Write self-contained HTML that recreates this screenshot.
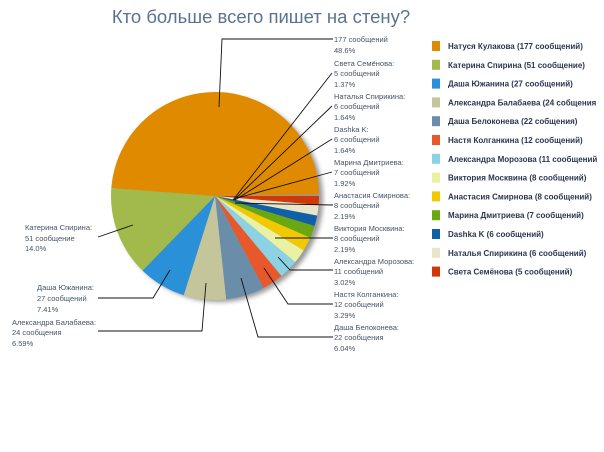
<!DOCTYPE html>
<html><head><meta charset="utf-8"><style>
body{margin:0;width:604px;height:452px;background:#fff;overflow:hidden}
svg{display:block}
text{font-family:"Liberation Sans","DejaVu Sans",sans-serif}
.l{font-size:7.5px;fill:#44556a}
.g{font-size:8px;font-weight:bold;fill:#2a3550}
</style></head><body>
<svg id="s" width="604" height="452" viewBox="0 0 604 452">
<defs><filter id="sh" x="-20%" y="-20%" width="140%" height="140%"><feGaussianBlur stdDeviation="2.5"/></filter></defs>
<text x="261" y="23" text-anchor="middle" font-size="18.5" fill="#5b7391">Кто больше всего пишет на стену?</text>
<ellipse cx="219" cy="199" rx="104" ry="103" fill="#555" opacity="0.6" filter="url(#sh)"/>
<g id="pie"></g>
<g stroke="#111" stroke-width="0.9" fill="none">
<polyline points="219,107 222,39 333,39"/>
<polyline points="233,200 332,73"/>
<polyline points="234,200 332,106"/>
<polyline points="235,200 332,139"/>
<polyline points="237,198 332,172"/>
<polyline points="235,203 333,205"/>
<polyline points="275,238 333,238"/>
<polyline points="278,257 290,270 333,270"/>
<polyline points="264,268 288,304 333,304"/>
<polyline points="241,278 258,337 333,337"/>
<polyline points="206,283 202,331 98,331"/>
<polyline points="170,270 153,298 98,298"/>
<polyline points="133,225 98,237"/>
</g>
<g class="l">
<text x="334" y="42">177 сообщений</text><text x="334" y="53">48.6%</text>
<text x="334" y="66">Света Семёнова:</text><text x="334" y="76">5 сообщений</text><text x="334" y="87">1.37%</text>
<text x="334" y="99">Наталья Спирикина:</text><text x="334" y="109">6 сообщений</text><text x="334" y="120">1.64%</text>
<text x="334" y="132">Dashka K:</text><text x="334" y="142">6 сообщений</text><text x="334" y="153">1.64%</text>
<text x="334" y="165">Марина Дмитриева:</text><text x="334" y="175">7 сообщений</text><text x="334" y="186">1.92%</text>
<text x="334" y="198">Анастасия Смирнова:</text><text x="334" y="208">8 сообщений</text><text x="334" y="219">2.19%</text>
<text x="334" y="231">Виктория Москвина:</text><text x="334" y="241">8 сообщений</text><text x="334" y="252">2.19%</text>
<text x="334" y="264">Александра Морозова:</text><text x="334" y="274">11 сообщений</text><text x="334" y="285">3.02%</text>
<text x="334" y="297">Настя Колганкина:</text><text x="334" y="307">12 сообщений</text><text x="334" y="318">3.29%</text>
<text x="334" y="330">Даша Белоконева:</text><text x="334" y="340">22 сообщения</text><text x="334" y="351">6.04%</text>
<text x="25" y="230">Катерина Спирина:</text><text x="25" y="241">51 сообщение</text><text x="25" y="251">14.0%</text>
<text x="37" y="290">Даша Южанина:</text><text x="37" y="301">27 сообщений</text><text x="37" y="312">7.41%</text>
<text x="12" y="325">Александра Балабаева:</text><text x="12" y="335">24 сообщения</text><text x="12" y="346">6.59%</text>
</g>
<g id="leg"></g>
</svg>
<script>
var d=[[177,"#e08a00","Натуся Кулакова (177 сообщений)"],[51,"#a2b94c","Катерина Спирина (51 сообщение)"],[27,"#2a90d8","Даша Южанина (27 сообщений)"],[24,"#c5c59c","Александра Балабаева (24 собщения"],[22,"#6a8ea9","Даша Белоконева (22 собщения)"],[12,"#e8582a","Настя Колганкина (12 сообщений)"],[11,"#8cd2e2","Александра Морозова (11 сообщений"],[8,"#e9f2a2","Виктория Москвина (8 сообщений)"],[8,"#f2c900","Анастасия Смирнова (8 сообщений)"],[7,"#6aa812","Марина Дмитриева (7 сообщений)"],[6,"#1060a8","Dashka K (6 сообщений)"],[6,"#e9e5c9","Наталья Спирикина (6 сообщений)"],[5,"#d0380a","Света Семёнова (5 сообщений)"]];
var ns="http://www.w3.org/2000/svg",pie=document.getElementById("pie"),leg=document.getElementById("leg");
var cx=215,cy=196,r=104,tot=365;
var order=d.slice().reverse(),a=0;
order.forEach(function(e){var s=a,t=a+e[0]/tot*2*Math.PI;a=t;
var p=document.createElementNS(ns,"path");
var x1=cx+r*Math.cos(s),y1=cy+r*Math.sin(s),x2=cx+r*Math.cos(t),y2=cy+r*Math.sin(t);
p.setAttribute("d","M"+cx+","+cy+"L"+x1+","+y1+"A"+r+","+r+" 0 "+((t-s)>Math.PI?1:0)+" 1 "+x2+","+y2+"Z");
p.setAttribute("fill",e[1]);pie.appendChild(p);});
d.forEach(function(e,i){var y=41+i*18.8;
var rc=document.createElementNS(ns,"rect");rc.setAttribute("x",432);rc.setAttribute("y",y);rc.setAttribute("width",8);rc.setAttribute("height",10);rc.setAttribute("fill",e[1]);leg.appendChild(rc);
var tx=document.createElementNS(ns,"text");tx.setAttribute("x",448);tx.setAttribute("y",y+8);tx.setAttribute("class","g");tx.textContent=e[2];leg.appendChild(tx);});
</script>
</body></html>
